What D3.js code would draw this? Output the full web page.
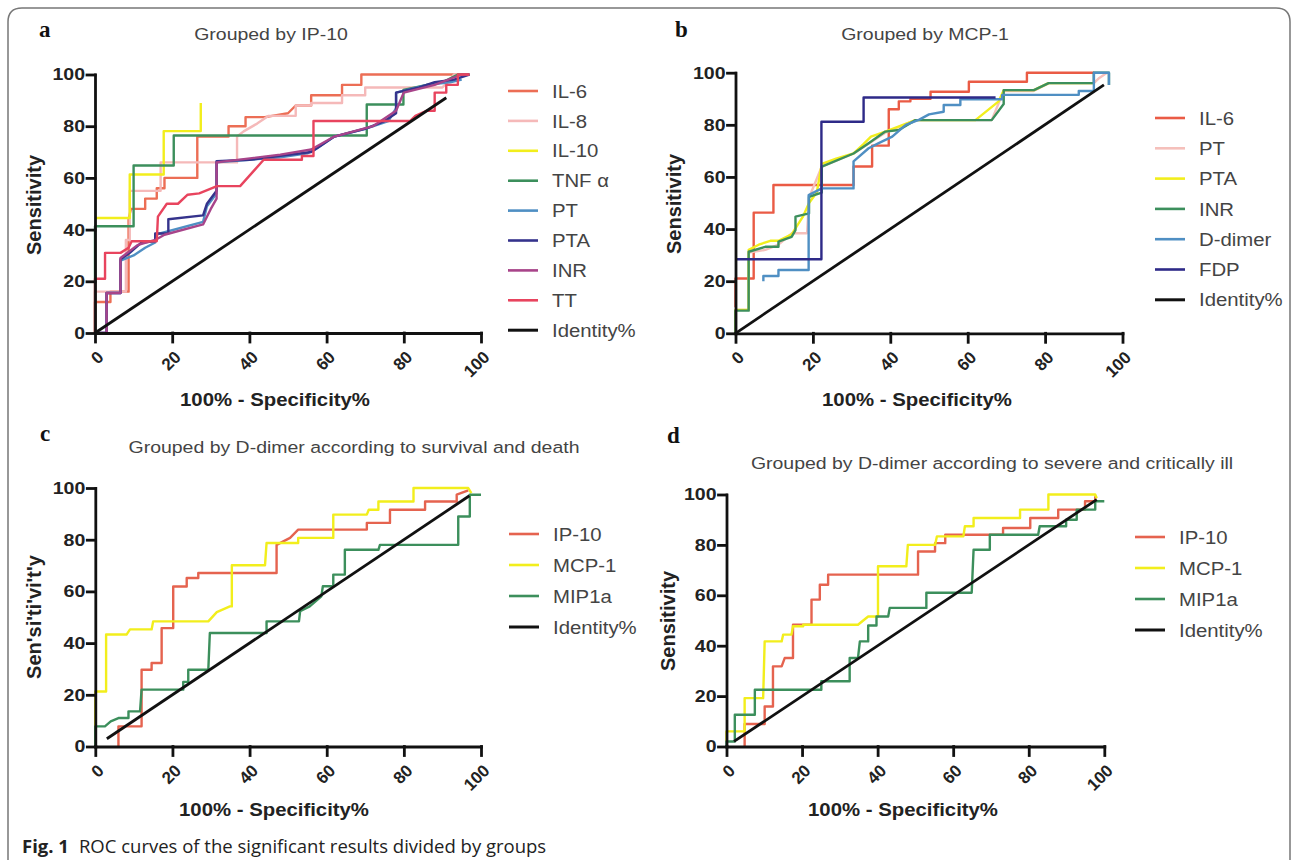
<!DOCTYPE html>
<html>
<head>
<meta charset="utf-8">
<script src="https://cdn.jsdelivr.net/npm/d3@7"></script>
<style>
body { margin:0; background:#fff; }
svg { display:block; font-family:"Liberation Sans", Arial, sans-serif; }
</style>
</head>
<body>
<svg id="fig" width="1295" height="860"></svg>
<script>

var ticks = [0, 20, 40, 60, 80, 100];

// panel a : grouped by IP-10   ([100% - specificity, sensitivity])
var namesA = ["IL-6", "IL-8", "IL-10", "TNF α", "PT", "PTA", "INR", "TT", "Identity%"];
var a_IL6 = [[0,0],[0,12],[4,12],[4,16],[8.7,16],[8.7,44],[9.3,48],[13,48],[13,52],[16,52],[16,56],[18,56],[18,60],[26.5,60],[26.5,76],[34.6,76],[34.6,80],[39,80],[39,83.5],[44,83.5],[50,85],[52,88],[56,88],[56,92],[64,92],[64,96],[69,96],[69,100],[97,100]];
var a_IL8 = [[0,0],[0,16],[8,16],[8,36],[9,36],[9,55],[17,55],[17,66],[36.8,66],[36.8,76],[38.5,78],[42,81],[45,84],[52,84],[52,88],[56,88],[56,89],[64,89],[64,92],[70,92],[70,95],[90,95],[92,98],[93,100],[96,100]];
var a_IL10 = [[0,44.5],[9,44.5],[9,61.3],[17.8,61.3],[17.8,78.1],[27.4,78.1],[27.4,89]];
var a_TNF = [[0,0],[0,41.3],[10,41.3],[10,64.8],[20.4,64.8],[20.4,76.4],[70.4,76.4],[70.4,88.4],[79.9,88.4],[79.9,94],[86,96],[90,97],[94,100],[97,100]];
var a_PT = [[0,0],[3,0],[3,15.5],[6.6,15.5],[6.6,28],[10,30],[13,33],[15.6,35],[15.6,38],[28,43],[29,49],[31.5,54],[31.5,66],[48,68],[55,69.5],[57,71],[62,76],[70,79],[76,82],[78,87],[78,93],[86,96],[92,97],[95,98]];
var a_PTA = [[0,0],[3,0],[3,15.5],[6.6,15.5],[6.6,28.5],[9,31],[12,35],[15.6,35.5],[15.6,38.5],[19,38.5],[19,44],[28,45.5],[29,50],[31.5,55],[31.5,66.5],[40,67],[48,68.5],[56,70],[58,72],[62,76],[70,79],[75,82],[78,85],[78,93],[84,95],[88,97],[93,98],[97,100]];
var a_INR = [[0,0],[3,0],[3,15.5],[6.6,15.5],[6.6,29],[11,34],[15.6,36],[18,38],[28,42],[30,48],[31.5,52],[31.5,66],[48,69],[56,71],[62,76],[72,80],[78,86],[80,93],[88,96],[95,100],[97,100]];
var a_TT = [[0,0],[0,21],[2.6,21],[2.6,31],[6.6,31],[8.7,33],[9.5,35.5],[16,35.5],[16.3,45],[18.6,50],[21.5,50],[24,53.5],[27,54],[31.6,56.8],[37.6,56.8],[43.7,67],[53.6,67],[53.6,68.5],[56.6,68.5],[56.6,82],[81.6,82],[83,84],[86,86],[88,86],[88,93],[91,93],[91,96],[94,96],[94,100],[97,100]];
var a_ID = [[0,0],[91,91]];

// panel b : grouped by MCP-1
var namesB = ["IL-6", "PT", "PTA", "INR", "D-dimer", "FDP", "Identity%"];
var b_IL6 = [[0,10],[0,21],[4.7,21],[4.7,46.3],[9.8,46.3],[9.8,56.9],[30.5,56.9],[30.5,64],[35.3,64],[35.3,72],[39.6,72],[39.6,86],[42.2,86],[42.2,89],[45.2,89],[45.2,90],[50.4,90],[50.4,92.7],[60.3,92.7],[60.3,96.5],[75.3,96.5],[75.3,100],[92.6,100]];
var b_PT = [[0,0],[0,9],[3.4,9],[3.4,31],[7.7,32],[11.1,34],[14.6,38.4],[18.5,38.4],[19,52],[22.3,64],[30.5,69],[38.7,77],[46.5,81.8],[66.2,81.8],[69.3,93],[77,93],[81,96],[92.6,96],[94,98],[96,100]];
var b_PTA = [[0,0],[0,9],[3.4,9],[3.4,32],[6,34],[9,35.5],[11.1,35.5],[14.5,38],[17.5,45],[19,50],[21,54],[22.3,65],[26,67],[30.5,69],[33,72.5],[35,75.5],[38.7,77.4],[46.5,81.8],[62,81.8],[68,89],[69.3,93.3],[77.1,93.3],[80.9,96],[92.6,96]];
var b_INR = [[0,0],[0,8.7],[3.4,8.7],[3.4,31.3],[7.7,33.2],[11.1,33.2],[11.1,35.2],[14.5,37],[15.5,39.6],[15.5,44.8],[19,46],[19,52.4],[22.3,54],[22.3,64],[30.5,69],[34.4,72.9],[38.7,77.4],[42.2,78],[46.5,81.8],[66.2,81.8],[69.3,88],[69.3,93.3],[77.1,93.3],[80.9,96],[92.6,96],[92.6,100],[96.5,100],[96.5,95.3]];
var b_DD = [[7.2,20],[7.2,22],[11.1,22],[11.1,24.3],[18.9,24.3],[18.9,53],[22.3,55.6],[30.5,55.6],[30.5,66],[34.4,71],[37,73],[40.5,75.5],[44,80],[47.5,82],[50,84],[53.8,85],[53.8,87.6],[58.1,87.6],[58.1,89.8],[68.9,89.8],[68.9,91.5],[88.7,91.5],[88.7,93],[92.6,93],[92.6,100],[96.5,100],[96.5,95.3]];
var b_FDP = [[0,28.4],[22.2,28.4],[22.2,81.2],[33.1,81.2],[33.1,90.5],[67.2,90.5]];
var b_ID = [[0,0],[95.2,95.3]];

// panel c : D-dimer, survival vs death
var namesC = ["IP-10", "MCP-1", "MIP1a", "Identity%"];
var c_IP10 = [[6,0],[6,7.8],[12,7.8],[12,29.7],[14.6,29.7],[14.6,32.3],[17.2,32.3],[17.2,45.8],[20.2,45.8],[20.2,61.9],[23.7,61.9],[23.7,65.2],[26.7,65.2],[26.7,67.1],[47,67.1],[47,78],[50.5,80.7],[52.6,83.9],[70.4,83.9],[70.4,86.5],[76.4,86.5],[76.4,91.6],[85.5,91.6],[85.5,94.8],[93.7,94.8],[93.7,97.4],[96.7,99.1]];
var c_MCP1 = [[0,0],[0,21.3],[2.8,21.3],[2.8,43.3],[8.1,43.3],[9,45.3],[14.6,45.3],[15,48.4],[29.3,48.4],[31.5,52],[34.9,54.2],[35.4,54.2],[35.4,70.1],[44,70.1],[44.4,78.7],[52.6,78.7],[52.6,80.7],[61.7,80.7],[61.7,89.7],[70.4,89.7],[70.9,91.6],[73.4,91.6],[73.4,94.8],[82.5,94.8],[82.5,100],[96.7,100],[97.5,98]];
var c_MIP1a = [[0,0],[0,7.8],[2.5,7.8],[4,9.7],[6,11],[8.6,11],[8.6,13.6],[11.6,13.6],[12,22],[22.8,22],[22.8,25],[24.1,25],[24.1,29.7],[29.3,29.7],[29.7,43.9],[44.4,43.9],[44.4,48.4],[52.8,48.4],[53.1,52.3],[55.6,54.2],[58.6,58.1],[59,62],[61.7,62],[61.7,66.5],[64.7,66.5],[64.7,76.1],[73.4,76.1],[73.8,78],[94.1,78],[94.1,89],[97.1,89],[97.1,97.4],[100,97.4]];
var c_ID = [[3,3],[97,97]];

// panel d : D-dimer, severe vs critically ill
var namesD = ["IP-10", "MCP-1", "MIP1a", "Identity%"];
var d_IP10 = [[4.8,0],[4.8,8.9],[10.1,8.9],[10.1,15.9],[12.3,15.9],[12.3,31.8],[14.6,31.8],[15.4,35.1],[17.6,35.1],[17.6,48.3],[22.5,48.3],[22.5,58.3],[24.7,58.3],[24.7,64.2],[26.9,64.2],[26.9,68.2],[50.7,68.2],[50.7,77.4],[55.2,77.4],[55.2,80.7],[57.9,80.7],[57.9,84],[73.2,84],[73.2,86.7],[80.4,86.7],[80.4,90.7],[87.8,90.7],[87.8,94],[94.9,94],[94.9,97.3],[97.6,97.3],[97.6,99.3]];
var d_MCP1 = [[0,2],[0,6],[4.8,6],[4.8,19.2],[9.7,19.2],[10.1,41.7],[14.6,41.7],[15,44.4],[17.2,44.4],[17.6,47.7],[20.3,47.7],[20.3,48.3],[34.8,48.3],[37.5,51.6],[40.1,51.6],[40.1,71.5],[47.6,71.5],[48,80],[55.2,80],[55.7,83.4],[62.7,83.4],[63.1,87.4],[65.4,87.4],[65.4,90.7],[77.7,90.7],[77.7,94],[85.2,94],[85.2,100],[97.6,100],[98,98.5]];
var d_MIP1a = [[0,0],[0,2],[2.2,2],[2.2,12.6],[7.5,12.6],[7.5,22.5],[25.1,22.5],[25.1,25.9],[32.6,25.9],[32.6,35.1],[34.8,35.1],[35.3,41.7],[37.5,41.7],[37.5,48],[39.7,48],[39.7,51.6],[42.8,51.6],[43.2,55],[52.9,55],[52.9,61],[64.9,61],[65.4,78.1],[69.7,78.1],[69.7,84],[82.5,84],[82.9,87.4],[89.9,87.4],[89.9,90],[92.7,90],[92.7,94],[97.6,94],[97.6,97.3],[100,97.3]];
var d_ID = [[2,2],[98,98]];

var svg = d3.select("#fig");

// figure frame
svg.append("path")
	.attr("d", "M8,860 V22 Q8,8 22,8 H1276 Q1290,8 1290,22 V860")
	.attr("fill", "none").attr("stroke", "#777").attr("stroke-width", 1.5);

// caption
var cap = svg.append("text").attr("x", 22).attr("y", 853)
	.style("font-family", "'Open Sans', sans-serif").style("font-size", "18.5px").attr("fill", "#222");
cap.append("tspan").style("font-weight", "bold").text("Fig. 1");
cap.append("tspan").attr("dx", 10).text("ROC curves of the significant results divided by groups");

function stretched(g, str, x, y, sx)	{
	return g.append("text").attr("transform", `translate(${x},${y}) scale(${sx},1)`).text(str);
}

function panel(p)	{

	var g = svg.append("g");
	var x = d3.scaleLinear([0, 100], [p.left, p.right]);
	var y = d3.scaleLinear([0, 100], [p.bottom, p.top]);

	// curves
	var line = d3.line().x(d => x(d[0])).y(d => y(d[1]));
	g.append("g").selectAll("path")
		.data(p.series)
		.join("path")
		.attr("d", d => line(d))
		.attr("fill", "none")
		.attr("stroke", (d, i) => p.colors[i])
		.attr("stroke-width", (d, i) => i === p.series.length - 1 ? 2.8 : 2.4)
		.attr("stroke-linejoin", "round");

	// axes
	var xa = g.append("g")
		.attr("transform", `translate(0,${p.bottom})`)
		.call(d3.axisBottom(x).tickValues(ticks).tickSize(9).tickSizeOuter(0));
	xa.selectAll(".tick text")
		.attr("x", 0).attr("y", 0).attr("dy", "0.35em")
		.attr("transform", "translate(5,21) rotate(-45)")
		.style("text-anchor", "end");

	var ya = g.append("g")
		.attr("transform", `translate(${p.left},0)`)
		.call(d3.axisLeft(y).tickValues(ticks).tickSize(8).tickSizeOuter(0));
	ya.selectAll(".tick text")
		.attr("x", 0)
		.attr("transform", "translate(-10,0) scale(1.15,1)");

	g.selectAll(".domain, .tick line").attr("stroke", "#111").attr("stroke-width", 2.8).attr("stroke-linecap", "square");
	g.selectAll(".tick text").attr("fill", "#222").style("font-size", "17px").style("font-weight", "bold")
		.style("font-family", "'Liberation Sans', Arial, sans-serif");

	// labels
	g.append("text").attr("x", p.lab[0]).attr("y", p.lab[1]).text(p.letter)
		.style("font-family", "'Liberation Serif', serif").style("font-weight", "bold").style("font-size", "23px").attr("fill", "#111");

	stretched(g, p.title, p.tpos[0], p.tpos[1], 1.18)
		.style("text-anchor", "middle").style("font-size", "16.5px").attr("fill", "#444");

	stretched(g, "100% - Specificity%", p.xt[0], p.xt[1], 1.1)
		.style("text-anchor", "middle").style("font-size", "18.5px").style("font-weight", "bold").attr("fill", "#222");

	g.append("text").attr("transform", `translate(${p.yt[0]},${p.yt[1]}) rotate(-90)`)
		.attr("dy", "0.35em").text(p.ytitle)
		.style("text-anchor", "middle").style("font-size", "20px").style("font-weight", "bold").attr("fill", "#222");

	// legend
	var lg = g.append("g").selectAll("g")
		.data(p.names)
		.join("g")
		.attr("transform", (d, i) => `translate(${p.leg[0]},${p.leg[1] + i * p.leg[2]})`);
	lg.append("line").attr("x1", 0).attr("x2", 30)
		.attr("stroke", (d, i) => p.colors[i]).attr("stroke-width", (d, i) => i === p.names.length - 1 ? 3 : 2.6);
	lg.append("text")
		.attr("transform", "translate(44,0) scale(1.1,1)")
		.attr("dy", "0.36em").text(d => d)
		.style("font-size", "18.5px").attr("fill", "#444");
}

panel({
	left: 95, right: 481, top: 74.5, bottom: 333,
	series: [a_IL6, a_IL8, a_IL10, a_TNF, a_PT, a_PTA, a_INR, a_TT, a_ID],
	colors: ["#ec6e55", "#f5b9b9", "#f2ee1c", "#3c8f5c", "#4f8fc3", "#35338c", "#a8448a", "#e8445e", "#111"],
	names: namesA, letter: "a", lab: [39, 37],
	title: "Grouped by IP-10", tpos: [271, 40],
	xt: [275, 406], yt: [34, 205], ytitle: "Sensitivity",
	leg: [508, 91, 29.9]
});

panel({
	left: 735.5, right: 1122.5, top: 72.7, bottom: 333.3,
	series: [b_IL6, b_PT, b_PTA, b_INR, b_DD, b_FDP, b_ID],
	colors: ["#ea5b45", "#f5c0bb", "#f2ee1c", "#3c8f5c", "#4f8fc3", "#2e2a88", "#111"],
	names: namesB, letter: "b", lab: [675, 37],
	title: "Grouped by MCP-1", tpos: [925, 40],
	xt: [917, 406], yt: [674, 204], ytitle: "Sensitivity",
	leg: [1155, 118, 30.3]
});

panel({
	left: 95.3, right: 481, top: 488, bottom: 746.5,
	series: [c_IP10, c_MCP1, c_MIP1a, c_ID],
	colors: ["#e5634f", "#f2ee1c", "#3c8f5c", "#111"],
	names: namesC, letter: "c", lab: [40, 441],
	title: "Grouped by D-dimer according to survival and death", tpos: [354, 453],
	xt: [274, 816], yt: [34, 617], ytitle: "Sen'si'ti'vi't'y",
	leg: [509, 534, 31]
});

panel({
	left: 726.5, right: 1104.3, top: 494.5, bottom: 746.5,
	series: [d_IP10, d_MCP1, d_MIP1a, d_ID],
	colors: ["#e5634f", "#f2ee1c", "#3c8f5c", "#111"],
	names: namesD, letter: "d", lab: [667, 443],
	title: "Grouped by D-dimer according to severe and critically ill", tpos: [992, 469],
	xt: [903, 816], yt: [668, 621], ytitle: "Sensitivity",
	leg: [1135, 537, 31]
});

</script>
</body>
</html>
